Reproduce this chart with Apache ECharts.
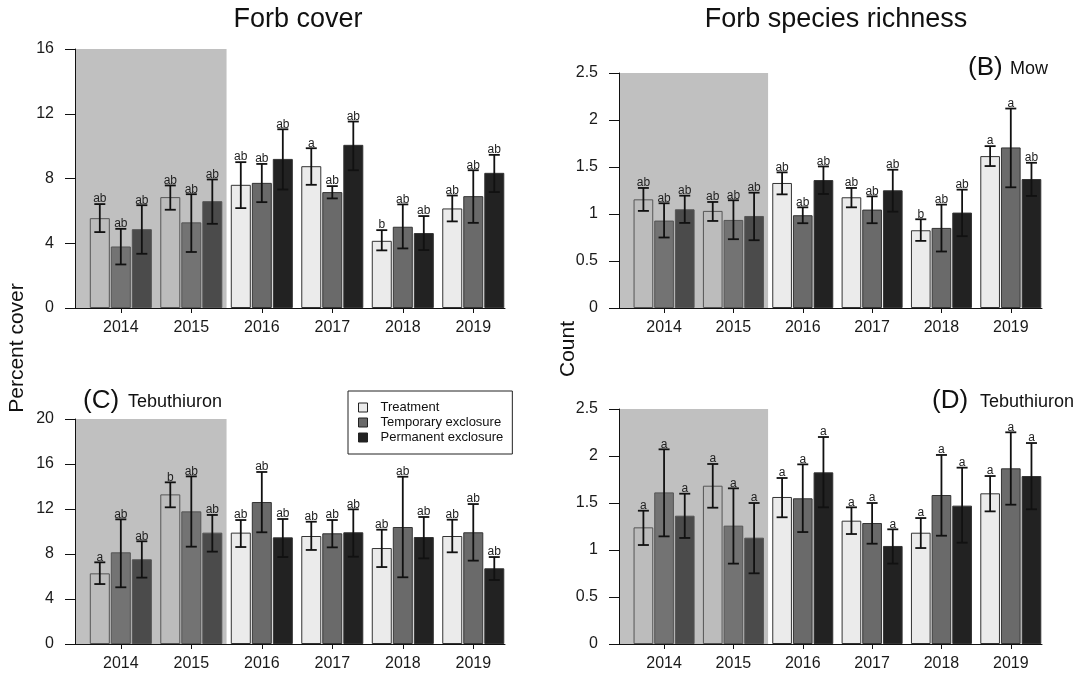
<!DOCTYPE html>
<html><head><meta charset="utf-8">
<script src="https://cdn.jsdelivr.net/npm/echarts@6/dist/echarts.min.js"></script>
<style>html,body{margin:0;padding:0;background:#fff}#c{width:1088px;height:686px}</style>
</head><body><div id="c"></div>
<script>
const years = ['2014','2015','2016','2017','2018','2019'];
const groups = ['Treatment','Temporary exclosure','Permanent exclosure'];

// (A) Forb cover, Mow
const A_treat   = [5.55, 6.85, 7.61, 8.76, 4.15, 6.15];
const A_treatHi = [6.42, 7.57, 9.01, 9.87, 4.81, 6.95];
const A_treatLo = [4.69, 6.07, 6.17, 7.61, 3.56, 5.35];
const A_temp    = [3.80, 5.29, 7.73, 7.16, 5.02, 6.91];
const A_tempHi  = [4.89, 7.03, 8.90, 7.53, 6.40, 8.51];
const A_tempLo  = [2.69, 3.46, 6.54, 6.77, 3.68, 5.26];
const A_perm    = [4.87, 6.60, 9.21, 10.08, 4.63, 8.35];
const A_permHi  = [6.35, 7.94, 11.04, 11.52, 5.68, 9.46];
const A_permLo  = [3.35, 5.20, 7.32, 8.51, 3.58, 7.16];
const A_treatL  = ['ab','ab','ab','a','b','ab'];
const A_tempL   = ['ab','ab','ab','ab','ab','ab'];
const A_permL   = ['ab','ab','ab','ab','ab','ab'];

// (B) Forb species richness, Mow
const B_treat   = [1.156, 1.033, 1.330, 1.178, 0.827, 1.616];
const B_treatHi = [1.277, 1.128, 1.443, 1.277, 0.944, 1.722];
const B_treatLo = [1.033, 0.926, 1.209, 1.071, 0.714, 1.510];
const B_temp    = [0.930, 0.937, 0.987, 1.047, 0.852, 1.708];
const B_tempHi  = [1.114, 1.146, 1.071, 1.188, 1.100, 2.122];
const B_tempLo  = [0.750, 0.732, 0.902, 0.902, 0.601, 1.284];
const B_perm    = [1.050, 0.979, 1.361, 1.252, 1.015, 1.372];
const B_permHi  = [1.195, 1.227, 1.506, 1.471, 1.259, 1.545];
const B_permLo  = [0.905, 0.721, 1.213, 1.025, 0.764, 1.192];
const B_treatL  = ['ab','ab','ab','ab','b','a'];
const B_tempL   = ['ab','ab','ab','ab','ab','a'];
const B_permL   = ['ab','ab','ab','ab','ab','ab'];

// (C) Forb cover, Tebuthiuron
const C_treat   = [6.28, 13.30, 9.90, 9.60, 8.53, 9.60];
const C_treatHi = [7.26, 14.37, 11.02, 10.87, 10.16, 11.05];
const C_treatLo = [5.33, 12.15, 8.62, 8.36, 6.84, 8.15];
const C_temp    = [8.15, 11.79, 12.62, 9.84, 10.40, 9.93];
const C_tempHi  = [11.08, 14.90, 15.29, 11.02, 14.87, 12.44];
const C_tempLo  = [5.04, 8.65, 9.93, 8.59, 5.93, 7.41];
const C_perm    = [7.53, 9.90, 9.48, 9.93, 9.51, 6.73];
const C_permHi  = [9.13, 11.47, 11.11, 11.97, 11.29, 7.73];
const C_permLo  = [5.90, 8.21, 7.73, 7.76, 7.61, 5.69];
const C_treatL  = ['a','b','ab','ab','ab','ab'];
const C_tempL   = ['ab','ab','ab','ab','ab','ab'];
const C_permL   = ['ab','ab','ab','ab','ab','ab'];

// (D) Forb species richness, Tebuthiuron
const D_treat   = [1.241, 1.684, 1.564, 1.312, 1.184, 1.603];
const D_treatHi = [1.418, 1.915, 1.766, 1.454, 1.340, 1.787];
const D_treatLo = [1.053, 1.450, 1.348, 1.170, 1.021, 1.411];
const D_temp    = [1.613, 1.259, 1.550, 1.287, 1.585, 1.869];
const D_tempHi  = [2.071, 1.656, 1.911, 1.500, 2.011, 2.252];
const D_tempLo  = [1.145, 0.855, 1.191, 1.067, 1.152, 1.482];
const D_perm    = [1.365, 1.131, 1.826, 1.043, 1.472, 1.787];
const D_permHi  = [1.599, 1.500, 2.202, 1.220, 1.876, 2.138];
const D_permLo  = [1.128, 0.752, 1.454, 0.855, 1.078, 1.433];
const D_treatL  = ['a','a','a','a','a','a'];
const D_tempL   = ['a','a','a','a','a','a'];
const D_permL   = ['a','a','a','a','a','a'];

const yMaxes = [16, 2.5, 20, 2.5];
const yIntervals = [4, 0.5, 4, 0.5];
const shadedYears = 2; // 2014-2015 shaded (pre-treatment)

const panels = [
  {means:[A_treat,A_temp,A_perm], hi:[A_treatHi,A_tempHi,A_permHi], lo:[A_treatLo,A_tempLo,A_permLo], letters:[A_treatL,A_tempL,A_permL]},
  {means:[B_treat,B_temp,B_perm], hi:[B_treatHi,B_tempHi,B_permHi], lo:[B_treatLo,B_tempLo,B_permLo], letters:[B_treatL,B_tempL,B_permL]},
  {means:[C_treat,C_temp,C_perm], hi:[C_treatHi,C_tempHi,C_permHi], lo:[C_treatLo,C_tempLo,C_permLo], letters:[C_treatL,C_tempL,C_permL]},
  {means:[D_treat,D_temp,D_perm], hi:[D_treatHi,D_tempHi,D_permHi], lo:[D_treatLo,D_tempLo,D_permLo], letters:[D_treatL,D_tempL,D_permL]}
];

// ---- layout & style ----
const FONT = "'Liberation Sans', Arial, sans-serif";
const gridLayout = [
  {left: 75,  top: 49,  width: 430, height: 259},
  {left: 619, top: 73,  width: 423, height: 235},
  {left: 75,  top: 419, width: 430, height: 225},
  {left: 619, top: 409, width: 423, height: 235}
];
const X_MIN = -0.65, X_MAX = 5.45;
const CAT_GAP = 0.12, BAR_GAP = 0.05;
const fillNormal = ['#ebebeb', '#6a6a6a', '#222222'];
const fillShaded = ['#bcbcbc', '#737373', '#4b4b4b'];
const borderNormal = '#333333';
const borderShaded = '#555555';
const shadeColor = '#c0c0c0';

const chart = echarts.init(document.getElementById('c'), null, {renderer: 'canvas'});

const grids = [], xAxes = [], yAxes = [], series = [];
panels.forEach((p, pi) => {
  grids.push(Object.assign({containLabel: false}, gridLayout[pi]));
  xAxes.push({
    type: 'value', gridIndex: pi, min: X_MIN, max: X_MAX,
    axisLine: {show: true, onZero: false, lineStyle: {color: '#111', width: 1}},
    axisTick: {show: true, length: 5, lineStyle: {color: '#111'}, customValues: years.map((_, i) => i)},
    axisLabel: {show: true, margin: 12, fontSize: 16, color: '#1a1a1a', fontFamily: FONT,
      customValues: years.map((_, i) => i), formatter: v => years[Math.round(v)]},
    splitLine: {show: false}
  });
  yAxes.push({
    type: 'value', gridIndex: pi, min: 0, max: yMaxes[pi], interval: yIntervals[pi],
    axisLine: {show: true, onZero: false, lineStyle: {color: '#111', width: 1}},
    axisTick: {show: true, length: 10, lineStyle: {color: '#111'}},
    axisLabel: {margin: 21, fontSize: 16, color: '#1a1a1a', fontFamily: FONT},
    splitLine: {show: false}
  });
  // shaded pre-treatment area
  series.push({
    type: 'custom', xAxisIndex: pi, yAxisIndex: pi, z: 0, silent: true,
    data: [[X_MIN, shadedYears - 0.5, yMaxes[pi]]],
    encode: {x: [0, 1], y: 2},
    renderItem: (params, api) => {
      const a = api.coord([api.value(0), api.value(2)]);
      const b = api.coord([api.value(1), 0]);
      return {type: 'rect', shape: {x: a[0], y: a[1], width: b[0] - a[0], height: b[1] - a[1]},
        style: {fill: shadeColor}};
    }
  });
  p.means.forEach((m, g) => {
    series.push({
      type: 'bar', name: groups[g], xAxisIndex: pi, yAxisIndex: pi, z: 2,
      barCategoryGap: (CAT_GAP * 100) + '%', barGap: (BAR_GAP * 100) + '%',
      itemStyle: {color: fillNormal[g], borderColor: borderNormal, borderWidth: 1},
      data: m.map((v, i) => i < shadedYears
        ? {value: [i, v], itemStyle: {color: fillShaded[g], borderColor: borderShaded}}
        : {value: [i, v]})
    });
  });
  p.means.forEach((m, g) => {
    const his = p.hi[g], los = p.lo[g], lets = p.letters[g];
    series.push({
      type: 'custom', xAxisIndex: pi, yAxisIndex: pi, z: 5, silent: true,
      data: m.map((v, i) => [i, los[i], his[i]]),
      encode: {x: 0, y: [1, 2]},
      renderItem: (params, api) => {
        const i = api.value(0);
        const band = api.size([1, 0])[0];
        const usable = band * (1 - CAT_GAP);
        const bw = usable / (3 + 2 * BAR_GAP);
        const cx = api.coord([i, 0])[0] - usable / 2 + g * bw * (1 + BAR_GAP) + bw / 2;
        const yLo = api.coord([i, api.value(1)])[1];
        const yHi = api.coord([i, api.value(2)])[1];
        const cap = 5.5;
        const ls = {stroke: '#111', lineWidth: 1.8};
        return {type: 'group', children: [
          {type: 'line', shape: {x1: cx, y1: yLo, x2: cx, y2: yHi}, style: ls},
          {type: 'line', shape: {x1: cx - cap, y1: yHi, x2: cx + cap, y2: yHi}, style: ls},
          {type: 'line', shape: {x1: cx - cap, y1: yLo, x2: cx + cap, y2: yLo}, style: ls},
          {type: 'text', style: {text: lets[params.dataIndex], x: cx, y: yHi + 1,
            align: 'center', verticalAlign: 'bottom', font: '12px ' + FONT, fill: '#222'}}
        ]};
      }
    });
  });
});

const graphics = [
  {type: 'text', x: 298, y: 20, style: {text: 'Forb cover', font: '27px ' + FONT, fill: '#111', align: 'center', verticalAlign: 'middle'}},
  {type: 'text', x: 836, y: 20, style: {text: 'Forb species richness', font: '27px ' + FONT, fill: '#111', align: 'center', verticalAlign: 'middle'}},
  {type: 'text', x: 17, y: 348, rotation: Math.PI / 2, style: {text: 'Percent cover', font: '21px ' + FONT, fill: '#111', align: 'center', verticalAlign: 'middle'}},
  {type: 'text', x: 568, y: 349, rotation: Math.PI / 2, style: {text: 'Count', font: '21px ' + FONT, fill: '#111', align: 'center', verticalAlign: 'middle'}},
  {type: 'text', x: 83, y: 68, style: {text: '(A)', font: '26px ' + FONT, fill: '#111', verticalAlign: 'middle'}},
  {type: 'text', x: 128, y: 69, style: {text: 'Mow', font: '18px ' + FONT, fill: '#111', verticalAlign: 'middle'}},
  {type: 'text', x: 968, y: 68, style: {text: '(B)', font: '26px ' + FONT, fill: '#111', verticalAlign: 'middle'}},
  {type: 'text', x: 1010, y: 69, style: {text: 'Mow', font: '18px ' + FONT, fill: '#111', verticalAlign: 'middle'}},
  {type: 'text', x: 83, y: 401, style: {text: '(C)', font: '26px ' + FONT, fill: '#111', verticalAlign: 'middle'}},
  {type: 'text', x: 128, y: 402, style: {text: 'Tebuthiuron', font: '18px ' + FONT, fill: '#111', verticalAlign: 'middle'}},
  {type: 'text', x: 932, y: 401, style: {text: '(D)', font: '26px ' + FONT, fill: '#111', verticalAlign: 'middle'}},
  {type: 'text', x: 980, y: 402, style: {text: 'Tebuthiuron', font: '18px ' + FONT, fill: '#111', verticalAlign: 'middle'}}
];

chart.setOption({
  animation: false,
  backgroundColor: '#ffffff',
  grid: grids, xAxis: xAxes, yAxis: yAxes, series: series,
  legend: {
    data: groups, orient: 'vertical', left: 348, top: 391,
    borderColor: '#222', borderWidth: 1, padding: [10, 9, 10, 10],
    itemWidth: 9, itemHeight: 9, itemGap: 2, icon: 'rect',
    itemStyle: {borderColor: '#222', borderWidth: 1},
    textStyle: {fontSize: 13, color: '#111', fontFamily: FONT, padding: [0, 0, 0, 8]},
    selectedMode: false
  },
  graphic: graphics
});
</script>
</body></html>
